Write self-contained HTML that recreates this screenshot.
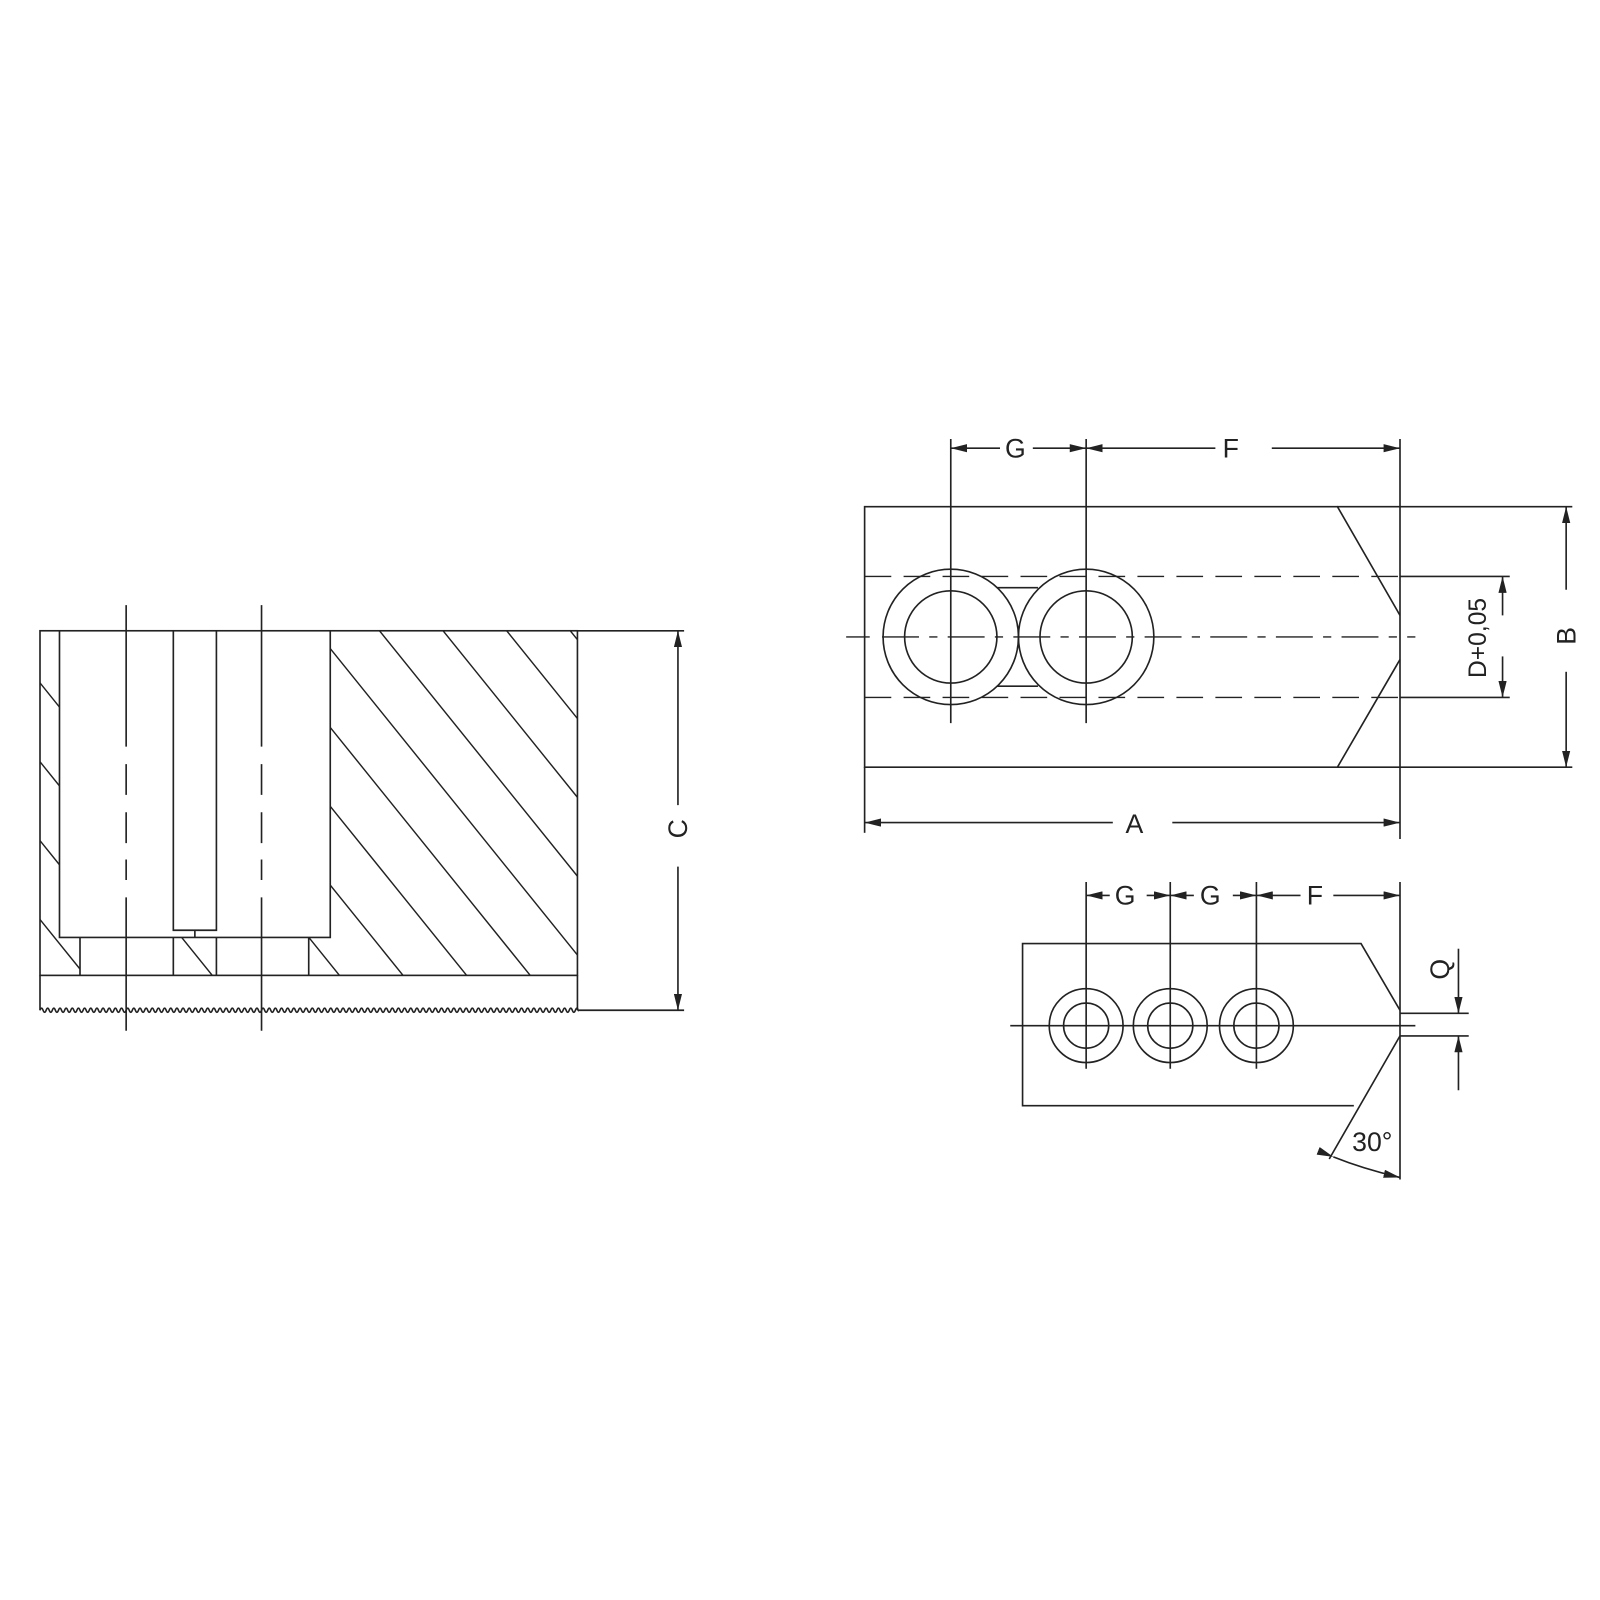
<!DOCTYPE html>
<html><head><meta charset="utf-8"><style>html,body{margin:0;padding:0;background:#fff}svg{display:block}text{font-family:"Liberation Sans",sans-serif;font-size:26px;fill:#222}</style></head>
<body>
<svg width="1600" height="1600" viewBox="0 0 1560 1560" xmlns="http://www.w3.org/2000/svg">
<defs>
<marker id="a" viewBox="0 0 16 8" refX="16" refY="4" markerWidth="16" markerHeight="8" markerUnits="userSpaceOnUse" orient="auto"><path d="M0,0 L16,4 L0,8 z" fill="#222"/></marker>
<clipPath id="h"><path d="M39,615 H58 V951 H39 z M322,615 H563 V951 H322 z M58,914 H78 V951 H58 z M169,914 H211 V951 H169 z M301,914 H322 V951 H301 z"/></clipPath>
<clipPath id="s"><rect x="38" y="970" width="526" height="30"/></clipPath>
</defs>
<g stroke="#222" stroke-width="1.6" fill="none">
<g clip-path="url(#h)" stroke-width="1.4">
<path d="M-250,615 l400,496 M-188,615 l400,496 M-126,615 l400,496 M-64,615 l400,496 M-2,615 l400,496 M60,615 l400,496 M122,615 l400,496 M184,615 l400,496 M246,615 l400,496 M308,615 l400,496 M370,615 l400,496 M432,615 l400,496 M494,615 l400,496 M556,615 l400,496"/>
</g>
<rect x="39" y="615" width="524" height="336"/>
<path d="M58,615 V914 H322 V615 M169,615 V907 H211 V615 M190,907 V914 M78,914 V951 M169,914 V951 M211,914 V951 M301,914 V951"/>
<path d="M39,951 V985 M563,951 V985"/>
<g clip-path="url(#s)">
<path d="M39,985 q1.5,-4 3,0 t3,0 t3,0 t3,0 t3,0 t3,0 t3,0 t3,0 t3,0 t3,0 t3,0 t3,0 t3,0 t3,0 t3,0 t3,0 t3,0 t3,0 t3,0 t3,0 t3,0 t3,0 t3,0 t3,0 t3,0 t3,0 t3,0 t3,0 t3,0 t3,0 t3,0 t3,0 t3,0 t3,0 t3,0 t3,0 t3,0 t3,0 t3,0 t3,0 t3,0 t3,0 t3,0 t3,0 t3,0 t3,0 t3,0 t3,0 t3,0 t3,0 t3,0 t3,0 t3,0 t3,0 t3,0 t3,0 t3,0 t3,0 t3,0 t3,0 t3,0 t3,0 t3,0 t3,0 t3,0 t3,0 t3,0 t3,0 t3,0 t3,0 t3,0 t3,0 t3,0 t3,0 t3,0 t3,0 t3,0 t3,0 t3,0 t3,0 t3,0 t3,0 t3,0 t3,0 t3,0 t3,0 t3,0 t3,0 t3,0 t3,0 t3,0 t3,0 t3,0 t3,0 t3,0 t3,0 t3,0 t3,0 t3,0 t3,0 t3,0 t3,0 t3,0 t3,0 t3,0 t3,0 t3,0 t3,0 t3,0 t3,0 t3,0 t3,0 t3,0 t3,0 t3,0 t3,0 t3,0 t3,0 t3,0 t3,0 t3,0 t3,0 t3,0 t3,0 t3,0 t3,0 t3,0 t3,0 t3,0 t3,0 t3,0 t3,0 t3,0 t3,0 t3,0 t3,0 t3,0 t3,0 t3,0 t3,0 t3,0 t3,0 t3,0 t3,0 t3,0 t3,0 t3,0 t3,0 t3,0 t3,0 t3,0 t3,0 t3,0 t3,0 t3,0 t3,0 t3,0 t3,0 t3,0 t3,0 t3,0 t3,0 t3,0 t3,0 t3,0 t3,0 t3,0 t3,0 t3,0 t3,0 t3,0 t3,0 t3,0 t3,0 t3,0 t3,0 t3,0 t3,0 t3,0 t3,0 t3,0 t3,0"/>
</g>
<path d="M123,590 V728 M123,745 V775 M123,792 V822 M123,838 V858 M123,875 V1005 M255,590 V728 M255,745 V775 M255,792 V822 M255,838 V858 M255,875 V1005"/>
<path d="M563,615 H667 M563,985 H667"/>
<path d="M661,785 V615" marker-end="url(#a)"/>
<path d="M661,845 V985" marker-end="url(#a)"/>
<path d="M1365,600 L1304,494 H843 V748 H1304 L1365,643"/>
<path d="M1365,428 V818 M1304,494 H1533 M1304,748 H1533"/>
<path d="M843,562 H1365 M843,680 H1365" stroke-dasharray="26,12" stroke-width="1.3"/>
<path d="M1365,562 H1472 M1365,680 H1472"/>
<path d="M825,621 H848 M860,621 H1380" stroke-dasharray="36,10,8,10" stroke-width="1.3"/>
<circle cx="927" cy="621" r="66"/><circle cx="927" cy="621" r="45"/>
<circle cx="1059" cy="621" r="66"/><circle cx="1059" cy="621" r="45"/>
<path d="M972,573 H1012 M972,669 H1012"/>
<path d="M927,428 V705 M1059,428 V705"/>
<path d="M975,437 H927" marker-end="url(#a)"/><path d="M1007,437 H1059" marker-end="url(#a)"/>
<path d="M1185,437 H1059" marker-end="url(#a)"/><path d="M1240,437 H1365" marker-end="url(#a)"/>
<path d="M843,748 V812"/>
<path d="M1085,802 H843" marker-end="url(#a)"/><path d="M1143,802 H1365" marker-end="url(#a)"/>
<path d="M1527,575 V494" marker-end="url(#a)"/><path d="M1527,655 V748" marker-end="url(#a)"/>
<path d="M1465,600 V562" marker-end="url(#a)"/><path d="M1465,640 V680" marker-end="url(#a)"/>
<path d="M1365,985 L1327,920 H997 V1078 H1320"/>
<path d="M1365,1010 L1296,1130"/>
<path d="M1365,860 V1150 M1365,988 H1432 M1365,1010 H1432"/>
<path d="M985,1000 H1380"/>
<circle cx="1059" cy="1000" r="36"/><circle cx="1059" cy="1000" r="22"/>
<circle cx="1141" cy="1000" r="36"/><circle cx="1141" cy="1000" r="22"/>
<circle cx="1225" cy="1000" r="36"/><circle cx="1225" cy="1000" r="22"/>
<path d="M1059,860 V1042 M1141,860 V1042 M1225,860 V1042"/>
<path d="M1082,873 H1059" marker-end="url(#a)"/><path d="M1118,873 H1141" marker-end="url(#a)"/>
<path d="M1164,873 H1141" marker-end="url(#a)"/><path d="M1202,873 H1225" marker-end="url(#a)"/>
<path d="M1268,873 H1225" marker-end="url(#a)"/><path d="M1300,873 H1365" marker-end="url(#a)"/>
<path d="M1422,925 V988" marker-end="url(#a)"/><path d="M1422,1063 V1010" marker-end="url(#a)"/>
<path d="M1300,1128 Q1330,1140 1365,1148" marker-start="url(#a)" marker-end="url(#a)"/>
</g>
<text x="990" y="446" text-anchor="middle">G</text>
<text x="1200" y="446" text-anchor="middle">F</text>
<text x="1106" y="812" text-anchor="middle">A</text>
<text x="1097" y="882" text-anchor="middle">G</text>
<text x="1180" y="882" text-anchor="middle">G</text>
<text x="1282" y="882" text-anchor="middle">F</text>
<text x="1338" y="1122" text-anchor="middle">30°</text>
<text transform="translate(670,808) rotate(-90)" text-anchor="middle">C</text>
<text transform="translate(1536,620) rotate(-90)" text-anchor="middle">B</text>
<text transform="translate(1449,622) rotate(-90)" text-anchor="middle" style="font-size:24px">D+0,05</text>
<text transform="translate(1413,945) rotate(-90)" text-anchor="middle">Q</text>
</svg>
</body></html>
